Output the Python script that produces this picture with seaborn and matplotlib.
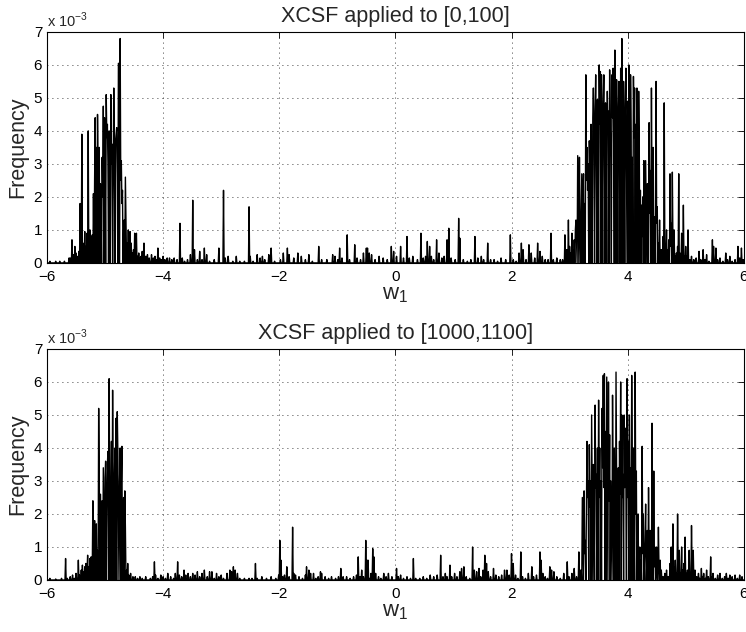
import numpy as np
import pandas as pd
import matplotlib
matplotlib.use("Agg")
import matplotlib.pyplot as plt
import seaborn as sns

# w1 bin positions and frequencies (in units of 1e-3)
# run 1: XCSF applied to [0,100]
top_w = [
    -5.95, -5.85, -5.78, -5.70, -5.62, -5.60, -5.57, -5.55, -5.52, -5.50,
    -5.47, -5.45, -5.43, -5.40, -5.38, -5.35, -5.33, -5.31, -5.29, -5.27,
    -5.26, -5.24, -5.22, -5.20, -5.18, -5.17, -5.15, -5.13, -5.12, -5.10,
    -5.08, -5.07, -5.05, -5.04, -5.03, -5.01, -5.00, -4.98, -4.97, -4.96,
    -4.95, -4.93, -4.92, -4.90, -4.89, -4.88, -4.86, -4.85, -4.84, -4.82,
    -4.81, -4.80, -4.79, -4.77, -4.76, -4.74, -4.73, -4.72, -4.71, -4.70,
    -4.68, -4.67, -4.65, -4.64, -4.62, -4.60, -4.58, -4.57, -4.55, -4.53,
    -4.51, -4.49, -4.47, -4.46, -4.44, -4.42, -4.40, -4.38, -4.36, -4.33,
    -4.30, -4.27, -4.24, -4.20, -4.17, -4.14, -4.11, -4.09, -4.06, -4.03,
    -4.00, -3.97, -3.93, -3.89, -3.85, -3.81, -3.76, -3.71, -3.67, -3.63,
    -3.58, -3.53, -3.49, -3.46, -3.41, -3.37, -3.33, -3.29, -3.25, -3.20,
    -3.12, -3.04, -2.96, -2.93, -2.88, -2.80, -2.74, -2.68, -2.60, -2.52,
    -2.50, -2.45, -2.38, -2.33, -2.29, -2.25, -2.18, -2.14, -2.08, -1.98,
    -1.93, -1.86, -1.83, -1.75, -1.68, -1.62, -1.55, -1.49, -1.43, -1.32,
    -1.27, -1.18, -1.08, -1.04, -0.99, -0.96, -0.92, -0.83, -0.79, -0.70,
    -0.66, -0.60, -0.55, -0.50, -0.48, -0.45, -0.41, -0.35, -0.28, -0.21,
    -0.14, -0.07, -0.03, 0.02, 0.09, 0.14, 0.20, 0.24, 0.30, 0.38,
    0.44, 0.48, 0.52, 0.55, 0.59, 0.62, 0.66, 0.71, 0.75, 0.80,
    0.84, 0.89, 0.92, 0.96, 1.03, 1.09, 1.11, 1.17, 1.24, 1.30,
    1.37, 1.42, 1.48, 1.52, 1.59, 1.64, 1.70, 1.76, 1.82, 1.90,
    1.98, 2.03, 2.08, 2.13, 2.17, 2.20, 2.25, 2.30, 2.34, 2.40,
    2.45, 2.49, 2.53, 2.58, 2.63, 2.68, 2.72, 2.78, 2.84, 2.88,
    2.92, 2.95, 2.98, 3.00, 3.02, 3.04, 3.06, 3.08, 3.10, 3.11,
    3.12, 3.14, 3.15, 3.17, 3.18, 3.20, 3.21, 3.23, 3.24, 3.26,
    3.28, 3.29, 3.30, 3.31, 3.32, 3.34, 3.35, 3.37, 3.38, 3.40,
    3.41, 3.42, 3.44, 3.45, 3.46, 3.48, 3.49, 3.51, 3.52, 3.53,
    3.55, 3.56, 3.58, 3.59, 3.60, 3.62, 3.63, 3.65, 3.66, 3.67,
    3.69, 3.70, 3.71, 3.73, 3.74, 3.75, 3.76, 3.78, 3.79, 3.81,
    3.82, 3.84, 3.85, 3.86, 3.88, 3.90, 3.91, 3.93, 3.94, 3.96,
    3.97, 3.98, 4.00, 4.02, 4.03, 4.05, 4.06, 4.08, 4.10, 4.11,
    4.12, 4.14, 4.16, 4.17, 4.19, 4.20, 4.22, 4.24, 4.25, 4.26,
    4.28, 4.29, 4.31, 4.32, 4.34, 4.37, 4.38, 4.39, 4.41, 4.42,
    4.44, 4.45, 4.47, 4.49, 4.50, 4.51, 4.53, 4.55, 4.57, 4.59,
    4.61, 4.63, 4.64, 4.66, 4.67, 4.69, 4.71, 4.73, 4.74, 4.75,
    4.77, 4.78, 4.80, 4.82, 4.84, 4.86, 4.88, 4.90, 4.93, 4.96,
    4.98, 5.00, 5.02, 5.04, 5.07, 5.10, 5.14, 5.18, 5.23, 5.26,
    5.30, 5.33, 5.36, 5.40, 5.46, 5.48, 5.52, 5.55, 5.59, 5.64,
    5.69, 5.72, 5.76, 5.80, 5.85, 5.90, 5.93, 5.96, 5.99,
]
top_f = [
    0.05, 0.05, 0.05, 0.05, 0.15, 0.15, 0.70, 0.25, 0.50, 0.30,
    0.20, 0.35, 1.80, 3.90, 0.60, 0.95, 0.50, 0.90, 4.00, 0.60,
    1.00, 0.80, 0.85, 2.10, 2.50, 4.40, 3.50, 4.50, 2.80, 3.50,
    2.40, 1.50, 3.20, 2.00, 4.75, 4.40, 2.90, 5.10, 3.80, 4.20,
    3.00, 4.00, 3.40, 5.10, 3.00, 3.60, 2.80, 5.30, 3.40, 3.70,
    3.90, 4.10, 2.60, 6.05, 3.20, 6.80, 2.50, 3.10, 1.80, 2.20,
    1.00, 1.30, 2.60, 1.20, 0.60, 1.00, 0.40, 0.95, 0.60, 0.30,
    0.40, 0.90, 0.30, 0.90, 0.20, 0.30, 0.15, 0.20, 0.35, 0.60,
    0.20, 0.25, 0.15, 0.25, 0.15, 0.20, 0.10, 0.45, 0.15, 0.10,
    0.20, 0.10, 0.15, 0.15, 0.10, 0.15, 0.10, 1.20, 0.15, 0.05,
    0.10, 0.25, 1.90, 0.40, 0.10, 0.35, 0.10, 0.45, 0.25, 0.05,
    0.10, 0.45, 2.20, 0.15, 0.20, 0.05, 0.20, 0.05, 0.05, 1.70,
    0.20, 0.05, 0.25, 0.15, 0.20, 0.10, 0.25, 0.45, 0.05, 0.10,
    0.30, 0.45, 0.25, 0.15, 0.30, 0.20, 0.10, 0.25, 0.05, 0.50,
    0.10, 0.10, 0.25, 0.20, 0.10, 0.45, 0.15, 0.85, 0.10, 0.55,
    0.15, 0.10, 0.30, 0.45, 0.45, 0.30, 0.25, 0.10, 0.20, 0.15,
    0.10, 0.50, 0.35, 0.20, 0.50, 0.15, 0.80, 0.15, 0.20, 0.10,
    0.90, 0.15, 0.20, 0.65, 0.50, 0.20, 0.10, 0.70, 0.30, 0.15,
    0.20, 0.70, 1.05, 0.15, 0.10, 1.35, 0.75, 0.10, 0.05, 0.10,
    0.80, 0.15, 0.20, 0.10, 0.60, 0.10, 0.10, 0.05, 0.15, 0.10,
    0.85, 0.10, 0.05, 0.30, 0.60, 0.40, 0.10, 0.55, 0.30, 0.15,
    0.60, 0.35, 0.20, 0.10, 0.10, 0.90, 0.10, 0.15, 0.10, 0.10,
    0.85, 0.40, 1.30, 0.50, 0.30, 0.90, 0.40, 0.70, 1.00, 1.30,
    0.60, 3.25, 1.50, 3.20, 1.00, 1.30, 2.70, 2.00, 2.70, 1.80,
    5.70, 2.50, 3.50, 2.20, 3.00, 3.70, 2.60, 4.20, 3.00, 4.40,
    5.30, 4.00, 4.60, 5.70, 3.20, 4.95, 3.60, 6.00, 4.20, 5.80,
    5.70, 3.80, 4.80, 5.70, 3.50, 4.85, 3.00, 5.20, 4.00, 4.60,
    5.85, 4.20, 3.20, 5.70, 4.40, 5.90, 3.60, 6.45, 4.80, 5.55,
    3.80, 4.50, 5.50, 3.00, 5.90, 6.80, 4.00, 5.50, 3.40, 4.60,
    5.90, 3.00, 4.90, 6.00, 3.50, 5.70, 4.00, 3.20, 5.65, 3.80,
    5.30, 4.20, 5.30, 3.00, 5.20, 3.60, 2.20, 1.75, 0.80, 2.00,
    3.10, 1.20, 3.10, 1.40, 2.40, 4.25, 1.50, 2.80, 5.30, 2.00,
    3.50, 1.00, 1.40, 5.50, 1.20, 1.70, 0.60, 1.30, 0.40, 0.40,
    0.80, 4.85, 0.60, 0.30, 1.00, 0.40, 0.70, 2.70, 0.50, 1.20,
    2.75, 0.60, 1.00, 0.20, 0.30, 0.50, 2.70, 0.30, 0.90, 1.75,
    0.20, 0.50, 0.20, 1.00, 0.10, 0.20, 0.10, 0.15, 0.35, 0.10,
    0.40, 0.10, 0.25, 0.05, 0.70, 0.50, 0.45, 0.10, 0.15, 0.05,
    0.30, 0.10, 0.20, 0.05, 0.10, 0.50, 0.15, 0.45, 0.10,
]

# run 2: XCSF applied to [1000,1100]
bot_w = [
    -5.95, -5.85, -5.75, -5.68, -5.65, -5.60, -5.56, -5.53, -5.50, -5.46,
    -5.44, -5.41, -5.39, -5.37, -5.35, -5.33, -5.31, -5.30, -5.28, -5.26,
    -5.24, -5.22, -5.21, -5.19, -5.18, -5.16, -5.15, -5.13, -5.11, -5.10,
    -5.08, -5.07, -5.05, -5.03, -5.02, -5.00, -4.99, -4.97, -4.96, -4.95,
    -4.93, -4.92, -4.90, -4.89, -4.87, -4.86, -4.84, -4.83, -4.81, -4.79,
    -4.78, -4.77, -4.75, -4.74, -4.72, -4.71, -4.69, -4.68, -4.66, -4.65,
    -4.63, -4.61, -4.59, -4.56, -4.52, -4.48, -4.44, -4.40, -4.36, -4.30,
    -4.22, -4.18, -4.15, -4.13, -4.09, -4.04, -4.00, -3.96, -3.92, -3.87,
    -3.82, -3.79, -3.75, -3.72, -3.68, -3.64, -3.61, -3.57, -3.53, -3.49,
    -3.45, -3.41, -3.37, -3.33, -3.29, -3.24, -3.20, -3.16, -3.12, -3.08,
    -3.04, -3.00, -2.96, -2.90, -2.85, -2.82, -2.79, -2.76, -2.72, -2.68,
    -2.60, -2.52, -2.47, -2.41, -2.38, -2.30, -2.22, -2.14, -2.06, -2.01,
    -1.99, -1.97, -1.94, -1.91, -1.87, -1.83, -1.77, -1.75, -1.72, -1.66,
    -1.60, -1.55, -1.53, -1.49, -1.46, -1.41, -1.37, -1.33, -1.29, -1.27,
    -1.21, -1.15, -1.10, -1.03, -0.98, -0.94, -0.90, -0.84, -0.78, -0.72,
    -0.67, -0.64, -0.61, -0.58, -0.55, -0.51, -0.49, -0.47, -0.44, -0.42,
    -0.39, -0.37, -0.34, -0.29, -0.25, -0.20, -0.16, -0.12, -0.06, 0.02,
    0.05, 0.09, 0.14, 0.20, 0.26, 0.31, 0.35, 0.42, 0.48, 0.54,
    0.60, 0.66, 0.72, 0.78, 0.82, 0.86, 0.89, 0.94, 0.97, 1.02,
    1.06, 1.11, 1.14, 1.18, 1.22, 1.28, 1.33, 1.36, 1.40, 1.44,
    1.47, 1.51, 1.54, 1.57, 1.60, 1.64, 1.69, 1.73, 1.78, 1.83,
    1.88, 1.92, 1.96, 2.00, 2.03, 2.07, 2.11, 2.16, 2.19, 2.24,
    2.29, 2.35, 2.38, 2.43, 2.49, 2.51, 2.54, 2.58, 2.62, 2.66,
    2.69, 2.73, 2.78, 2.84, 2.90, 2.96, 2.99, 3.04, 3.08, 3.12,
    3.16, 3.18, 3.20, 3.22, 3.23, 3.25, 3.26, 3.27, 3.29, 3.30,
    3.31, 3.32, 3.34, 3.35, 3.36, 3.38, 3.39, 3.41, 3.42, 3.44,
    3.45, 3.46, 3.48, 3.50, 3.51, 3.52, 3.54, 3.56, 3.57, 3.58,
    3.59, 3.60, 3.62, 3.64, 3.65, 3.67, 3.68, 3.69, 3.71, 3.72,
    3.74, 3.75, 3.77, 3.78, 3.80, 3.81, 3.83, 3.84, 3.86, 3.87,
    3.88, 3.90, 3.91, 3.92, 3.94, 3.95, 3.96, 3.97, 3.99, 4.00,
    4.01, 4.03, 4.04, 4.05, 4.07, 4.08, 4.10, 4.11, 4.13, 4.14,
    4.15, 4.17, 4.18, 4.20, 4.21, 4.23, 4.25, 4.26, 4.27, 4.29,
    4.30, 4.31, 4.33, 4.34, 4.36, 4.37, 4.39, 4.40, 4.42, 4.43,
    4.45, 4.46, 4.47, 4.49, 4.50, 4.53, 4.54, 4.56, 4.58, 4.61,
    4.64, 4.67, 4.70, 4.73, 4.75, 4.77, 4.78, 4.80, 4.82, 4.84,
    4.86, 4.87, 4.89, 4.91, 4.93, 4.95, 4.97, 4.99, 5.01, 5.03,
    5.06, 5.08, 5.10, 5.11, 5.13, 5.16, 5.19, 5.22, 5.24, 5.27,
    5.29, 5.31, 5.34, 5.36, 5.39, 5.43, 5.45, 5.47, 5.51, 5.55,
    5.59, 5.63, 5.67, 5.70, 5.73, 5.76, 5.80, 5.85, 5.89, 5.93,
    5.97,
]
bot_f = [
    0.05, 0.03, 0.05, 0.65, 0.05, 0.10, 0.15, 0.05, 0.20, 0.60,
    0.15, 0.30, 0.45, 0.25, 0.40, 0.50, 0.30, 0.75, 0.40, 0.65,
    0.70, 0.40, 2.40, 0.80, 1.80, 1.20, 1.70, 0.90, 5.20, 3.20,
    2.60, 1.50, 2.40, 3.40, 1.80, 3.10, 3.60, 2.20, 3.50, 3.90,
    6.10, 2.50, 2.40, 4.20, 5.75, 2.40, 3.00, 4.00, 4.90, 5.10,
    3.90, 2.00, 3.00, 4.00, 2.90, 4.05, 1.90, 2.50, 2.70, 1.60,
    0.30, 0.50, 0.15, 0.20, 0.10, 0.10, 0.05, 0.10, 0.05, 0.10,
    0.05, 0.10, 0.55, 0.15, 0.05, 0.15, 0.10, 0.05, 0.20, 0.10,
    0.05, 0.20, 0.55, 0.15, 0.10, 0.30, 0.15, 0.20, 0.10, 0.20,
    0.15, 0.25, 0.10, 0.20, 0.30, 0.10, 0.25, 0.25, 0.05, 0.20,
    0.10, 0.15, 0.05, 0.20, 0.30, 0.25, 0.40, 0.30, 0.20, 0.05,
    0.05, 0.05, 0.05, 0.50, 0.05, 0.10, 0.05, 0.10, 0.05, 0.15,
    1.20, 0.60, 0.10, 0.15, 0.40, 0.10, 1.60, 0.20, 0.15, 0.10,
    0.05, 0.15, 0.40, 0.30, 0.20, 0.20, 0.05, 0.10, 0.25, 0.20,
    0.10, 0.05, 0.10, 0.05, 0.10, 0.35, 0.10, 0.10, 0.05, 0.10,
    0.15, 0.70, 0.10, 0.30, 0.10, 1.20, 0.60, 0.60, 0.05, 0.20,
    0.95, 0.70, 0.20, 0.10, 0.05, 0.20, 0.10, 0.20, 0.10, 0.35,
    0.10, 0.15, 0.05, 0.10, 0.05, 0.65, 0.05, 0.05, 0.10, 0.05,
    0.15, 0.10, 0.15, 0.75, 0.10, 0.20, 0.10, 0.45, 0.10, 0.20,
    0.10, 0.25, 0.35, 0.40, 0.10, 0.05, 1.00, 0.30, 0.25, 0.35,
    0.10, 0.30, 0.75, 0.50, 0.25, 0.10, 0.35, 0.15, 0.10, 0.15,
    0.30, 0.30, 0.15, 0.80, 0.50, 0.15, 0.05, 0.85, 0.10, 0.05,
    0.20, 0.40, 0.10, 0.15, 0.85, 0.60, 0.20, 0.10, 0.05, 0.40,
    0.30, 0.25, 0.10, 0.05, 0.20, 0.55, 0.10, 0.20, 0.35, 0.10,
    0.85, 0.30, 0.30, 2.50, 1.20, 2.70, 0.80, 1.20, 2.00, 4.20,
    2.50, 3.00, 4.10, 2.20, 3.00, 5.00, 2.60, 3.50, 2.40, 5.30,
    2.80, 3.20, 4.00, 5.45, 2.50, 4.00, 3.00, 5.20, 3.40, 6.20,
    2.80, 6.25, 4.50, 6.15, 3.00, 6.00, 2.40, 4.40, 3.00, 1.50,
    5.60, 2.50, 4.00, 2.20, 6.30, 3.00, 2.00, 3.40, 4.20, 2.60,
    6.00, 5.00, 2.50, 3.20, 5.00, 2.80, 4.60, 3.00, 6.10, 2.50,
    4.20, 5.00, 2.00, 3.40, 6.20, 2.60, 4.00, 1.50, 6.30, 2.00,
    3.30, 0.80, 2.00, 0.40, 1.00, 0.60, 4.05, 0.80, 2.00, 0.50,
    1.20, 2.30, 0.60, 1.50, 2.80, 0.80, 1.50, 0.30, 4.75, 1.20,
    3.30, 0.40, 1.00, 0.30, 1.00, 1.60, 0.40, 0.60, 0.30, 0.10,
    0.20, 0.30, 0.10, 0.50, 1.00, 0.30, 1.70, 0.40, 0.60, 0.20,
    2.00, 0.50, 0.90, 0.20, 1.00, 0.30, 0.50, 1.30, 0.20, 0.30,
    0.90, 0.20, 1.65, 0.40, 0.90, 0.30, 0.10, 0.20, 0.05, 0.35,
    0.10, 0.20, 0.05, 0.30, 0.10, 0.70, 0.10, 0.20, 0.05, 0.15,
    0.20, 0.05, 0.10, 0.20, 0.05, 0.15, 0.10, 0.15, 0.05, 0.15,
    0.10,
]

titles = ["XCSF applied to [0,100]", "XCSF applied to [1000,1100]"]
x_ticks = [-6, -4, -2, 0, 2, 4, 6]
y_ticks = [0, 1, 2, 3, 4, 5, 6, 7]

# histogram bins of width 0.01, bins not listed above are empty
bins = np.arange(-600, 601)


def to_frame(w, f):
    idx = np.rint(np.array(w) * 100).astype(int)
    s = pd.Series(f, index=idx).groupby(level=0).max()
    s = s.reindex(bins, fill_value=0.0)
    return pd.DataFrame({"w1": bins / 100.0, "freq": s.values})


sns.set_style("white")
plt.rcParams["font.family"] = ["Liberation Sans", "DejaVu Sans"]
plt.rcParams["mathtext.fontset"] = "custom"
plt.rcParams["mathtext.rm"] = "Liberation Sans"

fig = plt.figure(figsize=(7.46, 6.32), dpi=100)
ax1 = fig.add_axes([0.063, 0.584, 0.934, 0.3655])
ax2 = fig.add_axes([0.063, 0.0823, 0.934, 0.3655])

for ax, w, f, title in [(ax1, top_w, top_f, titles[0]), (ax2, bot_w, bot_f, titles[1])]:
    df = to_frame(w, f)
    sns.lineplot(data=df, x="w1", y="freq", color="black", linewidth=1.0, ax=ax)
    ax.set_xlim(-6, 6)
    ax.set_ylim(0, 7)
    ax.set_xticks(x_ticks)
    ax.set_yticks(y_ticks)
    ax.grid(True, linestyle=(0, (1, 5)), color="black", linewidth=0.6)
    ax.tick_params(direction="in", top=True, right=True, length=4.5,
                   width=0.6, labelsize=11, colors="black")
    ax.tick_params(axis="x", pad=5)
    for sp in ax.spines.values():
        sp.set_color("black")
        sp.set_linewidth(0.8)
    ax.set_title(title, fontsize=15.5, pad=7)
    ax.set_xlabel(r"w$_{\mathrm{1}}$", fontsize=16, labelpad=0)
    ax.set_ylabel("Frequency", fontsize=15.5, labelpad=4)
    ax.text(0, 1.02, r"x 10$^{-3}$", transform=ax.transAxes, fontsize=10.5)

fig.savefig("out.png", dpi=100)
